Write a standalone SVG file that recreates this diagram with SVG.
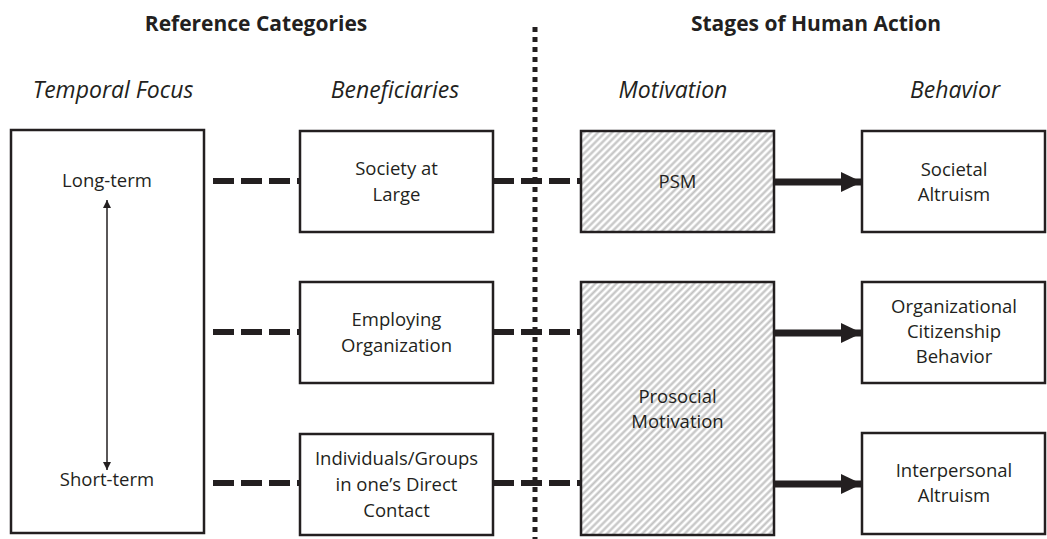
<svg xmlns="http://www.w3.org/2000/svg" width="1047" height="539" viewBox="0 0 1047 539">
<style>
.box{fill:#fff;stroke:#231f20;stroke-width:2.5}
.hatch{fill:url(#hatch);stroke:#231f20;stroke-width:2.5}
.t{font-family:"Open Sans","Liberation Sans",sans-serif;font-size:18.5px;fill:#231f20;text-anchor:middle}
.h{font-family:"Open Sans","Liberation Sans",sans-serif;font-size:21px;font-weight:700;fill:#231f20;text-anchor:middle}
.s{font-family:"Open Sans","Liberation Sans",sans-serif;font-size:23px;font-style:italic;fill:#231f20;text-anchor:middle}
.dash{stroke:#231f20;stroke-width:6;stroke-dasharray:21 7;fill:none}
.solid{stroke:#231f20;stroke-width:7;fill:none}
.thin{stroke:#231f20;stroke-width:1.5;fill:none}
</style>
<defs>
<pattern id="hatch" width="5" height="5" patternUnits="userSpaceOnUse" patternTransform="rotate(45)">
<rect width="5" height="5" fill="#ffffff"/>
<line x1="1.5" y1="0" x2="1.5" y2="5" stroke="#c2c2c2" stroke-width="2.2"/>
</pattern>
<marker id="big" markerWidth="21" markerHeight="20" refX="21" refY="10" orient="auto" markerUnits="userSpaceOnUse">
<path d="M0,0 L21,10 L0,20 Z" fill="#231f20"/>
</marker>
<marker id="small" markerWidth="8" markerHeight="8" refX="8" refY="4" orient="auto-start-reverse" markerUnits="userSpaceOnUse">
<path d="M0,0 L8,4 L0,8 Z" fill="#231f20"/>
</marker>
</defs>

<text class="h" x="256" y="31">Reference Categories</text>
<text class="h" x="816" y="31">Stages of Human Action</text>
<text class="s" x="113" y="98">Temporal Focus</text>
<text class="s" x="395" y="98">Beneficiaries</text>
<text class="s" x="673" y="98">Motivation</text>
<text class="s" x="955" y="98">Behavior</text>

<line x1="535" y1="27" x2="535" y2="539" stroke="#231f20" stroke-width="5" stroke-dasharray="5 5"/>

<g id="connectors">
<line class="dash" x1="213" y1="181" x2="300" y2="181"/>
<line class="dash" x1="213" y1="332" x2="300" y2="332"/>
<line class="dash" x1="213" y1="483" x2="300" y2="483"/>
<line class="dash" x1="493" y1="181" x2="581" y2="181"/>
<line class="dash" x1="493" y1="332" x2="581" y2="332"/>
<line class="dash" x1="493" y1="483" x2="581" y2="483"/>
<line class="solid" x1="775" y1="182" x2="862" y2="182" marker-end="url(#big)"/>
<line class="solid" x1="775" y1="333" x2="862" y2="333" marker-end="url(#big)"/>
<line class="solid" x1="775" y1="484" x2="862" y2="484" marker-end="url(#big)"/>
</g>

<g id="temporal-focus">
<rect class="box" x="11" y="130" width="193" height="403"/>
<text class="t" x="107" y="187">Long-term</text>
<text class="t" x="107" y="486">Short-term</text>
<line class="thin" x1="107" y1="200" x2="107" y2="470" marker-start="url(#small)" marker-end="url(#small)"/>
</g>

<g id="society">
<rect class="box" x="300" y="131" width="193" height="101"/>
<text class="t" x="396.5" y="175">Society at</text>
<text class="t" x="396.5" y="201">Large</text>
</g>
<g id="employing">
<rect class="box" x="300" y="282" width="193" height="101"/>
<text class="t" x="396.5" y="326">Employing</text>
<text class="t" x="396.5" y="352">Organization</text>
</g>
<g id="individuals">
<rect class="box" x="300" y="434" width="193" height="101"/>
<text class="t" x="396.5" y="465">Individuals/Groups</text>
<text class="t" x="396.5" y="491">in one’s Direct</text>
<text class="t" x="396.5" y="517">Contact</text>
</g>

<g id="psm">
<rect class="hatch" x="581" y="131" width="193" height="101"/>
<text class="t" x="677.5" y="188">PSM</text>
</g>
<g id="prosocial">
<rect class="hatch" x="581" y="282" width="193" height="253"/>
<text class="t" x="677.5" y="403">Prosocial</text>
<text class="t" x="677.5" y="428">Motivation</text>
</g>

<g id="societal-altruism">
<rect class="box" x="862" y="131" width="183" height="101"/>
<text class="t" x="954" y="176">Societal</text>
<text class="t" x="954" y="201">Altruism</text>
</g>
<g id="ocb">
<rect class="box" x="862" y="282" width="183" height="101"/>
<text class="t" x="954" y="313">Organizational</text>
<text class="t" x="954" y="338">Citizenship</text>
<text class="t" x="954" y="363">Behavior</text>
</g>
<g id="interpersonal">
<rect class="box" x="862" y="433" width="183" height="101"/>
<text class="t" x="954" y="477">Interpersonal</text>
<text class="t" x="954" y="502">Altruism</text>
</g>
</svg>
